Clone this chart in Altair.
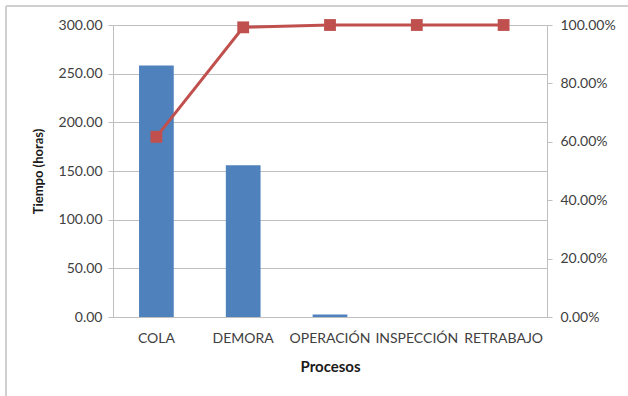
import altair as alt
import pandas as pd

# Pareto data: hours per process and cumulative share
procesos = ["COLA", "DEMORA", "OPERACIÓN", "INSPECCIÓN", "RETRABAJO"]
tiempo_horas = [258.5, 155.8, 2.6, 0.0, 0.0]
acumulado = [0.617, 0.992, 1.0, 1.0, 1.0]

df = pd.DataFrame({"proceso": procesos, "tiempo": tiempo_horas, "acum": acumulado})

FONT = "Lato"
TXT = "#404040"
GRID = "#bfbfbf"
LBL = 14

x_enc = alt.X(
    "proceso:N",
    sort=procesos,
    title="Procesos",
    scale=alt.Scale(paddingInner=0.6, paddingOuter=0.3),
    axis=alt.Axis(
        labelAngle=0, labelFontSize=LBL, labelColor=TXT, labelFont=FONT,
        labelPadding=14, ticks=False, domainColor=GRID,
        titleFontSize=15, titleFont=FONT, titleFontWeight="bold",
        titleColor="#1a1a1a", titlePadding=14,
    ),
)

bars = alt.Chart(df).mark_bar(color="#4F81BD").encode(
    x=x_enc,
    y=alt.Y(
        "tiempo:Q",
        title="Tiempo (horas)",
        scale=alt.Scale(domain=[0, 300], nice=False),
        axis=alt.Axis(
            values=[0, 50, 100, 150, 200, 250, 300], format=".2f",
            labelFontSize=LBL, labelColor=TXT, labelFont=FONT, labelPadding=6,
            tickSize=5, tickColor=GRID, domainColor=GRID, gridColor=GRID,
            titleFontSize=13, titleFont=FONT, titleFontWeight="bold",
            titleColor="#1a1a1a", titlePadding=13,
        ),
    ),
)

line = alt.Chart(df).mark_line(
    color="#C0504D", strokeWidth=3,
    point=alt.OverlayMarkDef(shape="square", size=140, color="#C0504D", filled=True, opacity=1),
).encode(
    x=alt.X("proceso:N", sort=procesos),
    y=alt.Y(
        "acum:Q",
        scale=alt.Scale(domain=[0, 1], nice=False),
        axis=alt.Axis(
            orient="right", title=None, values=[0, 0.2, 0.4, 0.6, 0.8, 1.0],
            format=".2%", grid=False,
            labelFontSize=LBL, labelColor=TXT, labelFont=FONT, labelPadding=8,
            tickSize=5, tickColor=GRID, domainColor=GRID,
        ),
    ),
)

# outer frame lines along the top and left edges
frame_top = alt.Chart(df).mark_rule(color="#d0d0d0", strokeWidth=2).encode(
    x=alt.value(-107), x2=alt.value(520), y=alt.value(-19)
)
frame_left = alt.Chart(df).mark_rule(color="#d0d0d0", strokeWidth=2).encode(
    x=alt.value(-107), y=alt.value(-19), y2=alt.value(380)
)

chart = (
    alt.layer(bars, line, frame_top, frame_left)
    .resolve_scale(y="independent")
    .properties(
        width=434, height=292,
        autosize=alt.AutoSizeParams(type="none"),
        padding={"left": 113, "top": 25, "right": 81, "bottom": 79},
        background="white",
    )
    .configure_view(stroke=None)
)

chart.save("out.html", embed_options={"renderer": "svg", "actions": False})
